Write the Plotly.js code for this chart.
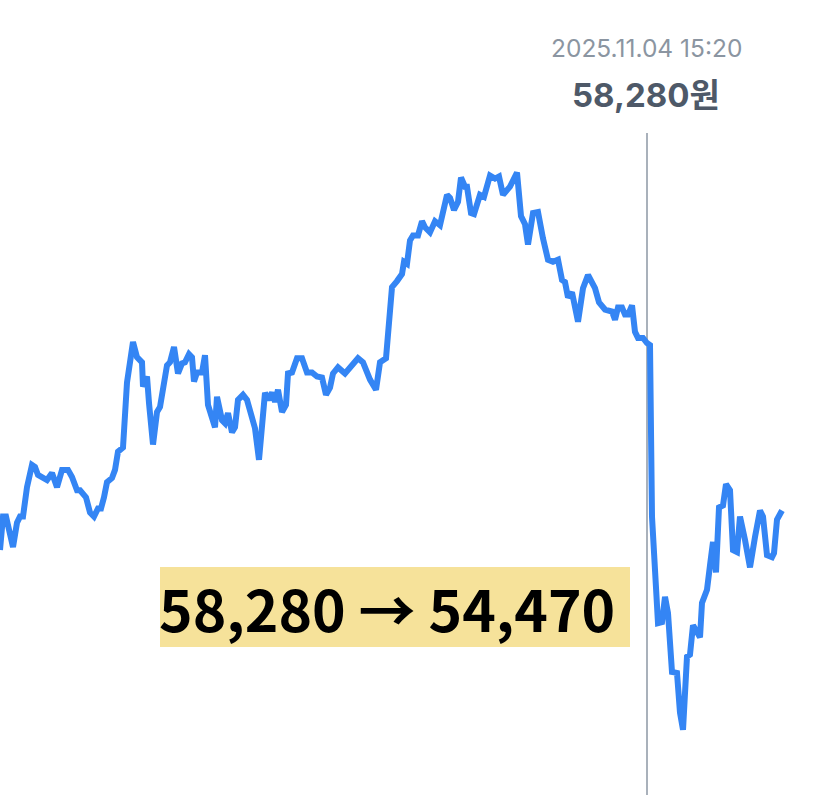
<!DOCTYPE html>
<html>
<head>
<meta charset="utf-8">
<script src="https://cdn.plot.ly/plotly-3.0.1.min.js"></script>
<style>
  html, body { margin: 0; padding: 0; background: #ffffff; }
  #chart { width: 821px; height: 812px; }
</style>
</head>
<body>
<div id="chart"></div>
<script>
// Time position of each sample (arbitrary minute-like units)
const times = [
  0,3,6,13,17,20,23,27,32,35,38,42,47,52,57,62,68,72,77,80,
  86,90,94,98,101,104,107,112,115,118,123,127,133,137,142,143,147,149,153,157,
  160,167,170,174,178,182,185,189,192,194,197,202,205,208,215,217,222,225,228,232,
  235,238,243,247,252,255,259,265,268,272,275,278,282,286,288,292,297,302,307,312,
  317,322,326,330,333,338,345,350,358,363,370,376,380,386,392,397,402,404,407,410,
  413,418,422,425,430,435,440,447,450,454,458,461,465,467,471,474,480,484,490,495,
  499,503,510,517,521,525,528,533,538,543,548,553,558,562,565,568,572,578,583,588,
  595,599,605,612,615,618,622,625,628,632,635,638,643,647,650,652,655,658,662,665,
  668,672,677,680,683,687,690,693,696,700,702,707,710,713,716,719,723,726,730,733,
  737,740,745,750,755,760,763,767,772,774,777,782
];
// Price in won
const prices = [
  56240,56570,56570,56270,56510,56570,56570,56860,57080,57060,56980,56960,56930,57000,56860,57030,57030,56960,56830,56830,
  56760,56610,56570,56650,56650,56760,56910,56950,57030,57210,57250,57890,58290,58140,58090,57850,57950,57690,57280,57600,
  57650,58060,58090,58240,57980,58080,58090,58170,58140,57900,57990,57990,58160,57670,57450,57750,57520,57490,57590,57400,
  57450,57720,57770,57720,57520,57440,57130,57790,57720,57790,57700,57820,57600,57670,57980,57990,58130,58130,57990,57990,
  57950,57940,57770,57840,57980,58040,57980,58040,58130,58090,57920,57820,58090,58130,58830,58890,58960,59080,59060,59290,
  59340,59340,59480,59420,59370,59480,59440,59740,59710,59590,59670,59910,59820,59820,59560,59550,59740,59720,59930,59900,
  59920,59740,59820,59960,59530,59450,59250,59560,59570,59310,59100,59080,59100,58900,58880,58730,58780,58490,58820,58950,
  58820,58680,58610,58590,58510,58630,58630,58560,58560,58650,58390,58330,58330,58280,58260,56570,55980,55520,55530,55780,
  55620,55040,55030,54640,54470,55190,55210,55500,55450,55380,55720,55850,56090,56320,56020,56660,56680,56890,56830,56240,
  56220,56570,56340,56070,56370,56630,56570,56190,56170,56210,56540,56630
];

const markerTime = 647;
const markerLabel = "2025.11.04 15:20";
const markerPrice = "58,280원";
const changeText = "58,280 → 54,470";

const trace = {
  x: times,
  y: prices,
  type: "scatter",
  mode: "lines",
  line: { color: "#3485f4", width: 6, shape: "linear" },
  hoverinfo: "skip"
};

const layout = {
  width: 821,
  height: 812,
  margin: { l: 0, r: 0, t: 0, b: 0, pad: 0 },
  paper_bgcolor: "#ffffff",
  plot_bgcolor: "#ffffff",
  showlegend: false,
  xaxis: { range: [0, 821], visible: false, fixedrange: true },
  yaxis: { range: [53660, 61659], visible: false, fixedrange: true },
  shapes: [
    {
      type: "line", xref: "x", yref: "paper",
      x0: markerTime, x1: markerTime,
      y0: 1 - 795 / 812, y1: 1 - 133 / 812,
      line: { color: "#a9b1bb", width: 2 },
      layer: "below"
    },
    {
      type: "rect", xref: "paper", yref: "paper",
      x0: 160 / 821, x1: 630 / 821,
      y0: 1 - 647 / 812, y1: 1 - 567 / 812,
      fillcolor: "#f6e29a", line: { width: 0 },
      layer: "above"
    }
  ],
  annotations: [
    {
      xref: "paper", yref: "paper",
      x: 646 / 821, y: 1 - 48 / 812,
      xanchor: "center", yanchor: "middle",
      text: markerLabel, showarrow: false,
      font: { family: "Inter, 'Noto Sans', sans-serif", size: 24.5, color: "#8b95a1" }
    },
    {
      xref: "paper", yref: "paper",
      x: 646 / 821, y: 1 - 95 / 812,
      xanchor: "center", yanchor: "middle",
      text: "<b>" + markerPrice + "</b>", showarrow: false,
      font: { family: "Inter, 'Noto Sans CJK KR', sans-serif", size: 33, color: "#4e5968" }
    },
    {
      xref: "paper", yref: "paper",
      x: 387 / 821, y: 1 - 607 / 812,
      xanchor: "center", yanchor: "middle",
      text: "<b>" + changeText + "</b>", showarrow: false,
      font: { family: "'Noto Sans CJK KR', 'Noto Sans', sans-serif", size: 57, color: "#000000" }
    }
  ]
};

Plotly.newPlot("chart", [trace], layout, { staticPlot: true, displayModeBar: false });
</script>
</body>
</html>
